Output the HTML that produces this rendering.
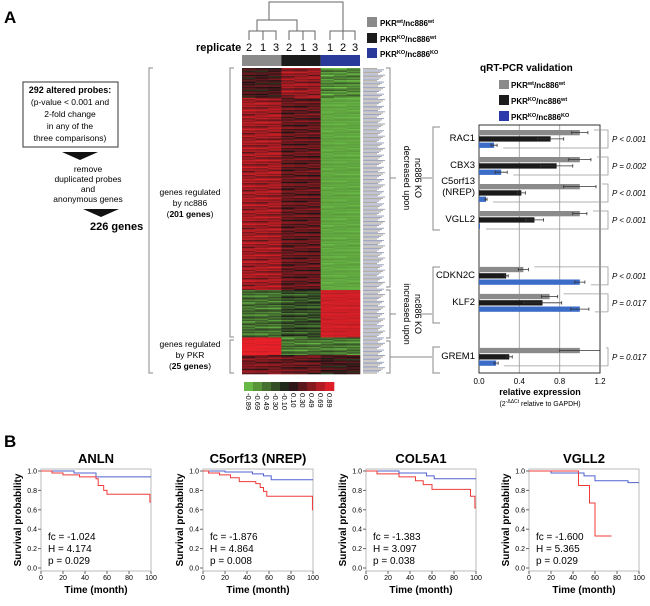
<!DOCTYPE html>
<html><head><meta charset="utf-8"><style>
body{margin:0;background:#fff;}
svg{display:block;font-family:"Liberation Sans",Arial,sans-serif;}
</style></head><body>
<svg id="fig" width="650" height="606" viewBox="0 0 650 606">
<g id="static" fill="#000">
<text x="4" y="23" font-size="17" font-weight="bold">A</text>
<text x="4" y="447" font-size="17" font-weight="bold">B</text>
<rect x="23" y="82" width="95" height="65" fill="#fff" stroke="#555" stroke-width="1.2"/>
<g font-size="8.5" text-anchor="middle">
<text x="70" y="93" font-weight="bold" font-size="9">292 altered probes:</text>
<text x="70" y="105">(p-value &lt; 0.001 and</text>
<text x="70" y="117">2-fold change</text>
<text x="70" y="129">in any of the</text>
<text x="70" y="141">three comparisons)</text>
</g>
<polygon points="62,152 98,152 80,160" fill="#111"/>
<g font-size="8.5" text-anchor="middle">
<text x="88" y="172">remove</text><text x="88" y="182">duplicated probes</text><text x="88" y="192">and</text><text x="88" y="202">anonymous genes</text>
</g>
<polygon points="83,209 119,209 101,217" fill="#111"/>
<text x="90" y="230" font-size="11" font-weight="bold">226 genes</text>
<path d="M153,68 H149 V373 H153" fill="none" stroke="#888" stroke-width="1"/>
<path d="M234,68 H230 V337 H234 M234,340 H230 V373 H234" fill="none" stroke="#888" stroke-width="1"/>
<g font-size="8.5" text-anchor="middle">
<text x="190" y="195">genes regulated</text><text x="190" y="206">by nc886</text><text x="190" y="217">(<tspan font-weight="bold">201 genes</tspan>)</text>
</g>
<g font-size="8.5" text-anchor="middle">
<text x="190" y="347">genes regulated</text><text x="190" y="358">by PKR</text><text x="190" y="369">(<tspan font-weight="bold">25 genes</tspan>)</text>
</g>
<g fill="none" stroke="#666" stroke-width="1">
<path d="M269,20 V2 H343 V31"/>
<path d="M257,31 V20 H297 V31"/>
<path d="M249,40 V31 H276 V40 M263,31 V40"/>
<path d="M289,40 V31 H315 V40 M303,31 V40"/>
<path d="M330,40 V31 H355 V40 M343,31 V40"/>
</g>
<text x="196" y="51" font-size="11" font-weight="bold">replicate</text>
<g font-size="11" text-anchor="middle">
<text x="249" y="51">2</text><text x="263" y="51">1</text><text x="276" y="51">3</text>
<text x="289" y="51">2</text><text x="303" y="51">1</text><text x="315" y="51">3</text>
<text x="330" y="51">1</text><text x="343" y="51">2</text><text x="355" y="51">3</text>
</g>
<rect x="242" y="55" width="39.3" height="11" fill="#8a8a8a"/>
<rect x="281.3" y="55" width="39.3" height="11" fill="#1c1c1c"/>
<rect x="320.6" y="55" width="39.4" height="11" fill="#2a3a9a"/>
<g font-size="8" font-weight="bold">
<rect x="367" y="17" width="10" height="10" fill="#8a8a8a"/><text x="380" y="26">PKR<tspan font-size="5.5" dy="-3">wt</tspan><tspan dy="3">/nc886</tspan><tspan font-size="5.5" dy="-3">wt</tspan></text>
<rect x="367" y="33" width="10" height="10" fill="#1c1c1c"/><text x="380" y="42">PKR<tspan font-size="5.5" dy="-3">KO</tspan><tspan dy="3">/nc886</tspan><tspan font-size="5.5" dy="-3">wt</tspan></text>
<rect x="367" y="48" width="10" height="10" fill="#2a3a9a"/><text x="380" y="57">PKR<tspan font-size="5.5" dy="-3">KO</tspan><tspan dy="3">/nc886</tspan><tspan font-size="5.5" dy="-3">KO</tspan></text>
</g>
<path d="M386,68 H390 V287 H386 M386,290 H390 V338 H386 M386,341 H390 V373 H386" fill="none" stroke="#888"/>
<g font-size="9" text-anchor="middle">
<text transform="translate(404,178) rotate(90)">decreased upon</text><text transform="translate(415,178) rotate(90)">nc886 KO</text></g>
<g font-size="9" text-anchor="middle">
<text transform="translate(404,314) rotate(90)">increased upon</text><text transform="translate(415,314) rotate(90)">nc886 KO</text></g>
<path d="M390,178 H396 M420,178 H432 M390,314 H396 M420,314 H432 M390,357 H432" fill="none" stroke="#888"/>
<path d="M440,127 H433 V230 H440 M440,267 H433 V323 H440 M440,347 H433 V373 H440" fill="none" stroke="#888"/>
<text x="480" y="71" font-size="10" font-weight="bold">qRT-PCR validation</text>
<g font-size="8" font-weight="bold">
<rect x="499" y="80" width="10" height="9" fill="#8a8a8a"/><text x="511" y="88">PKR<tspan font-size="5.5" dy="-3">wt</tspan><tspan dy="3">/nc886</tspan><tspan font-size="5.5" dy="-3">wt</tspan></text>
<rect x="499" y="95" width="10" height="10" fill="#1c1c1c"/><text x="511" y="104">PKR<tspan font-size="5.5" dy="-3">KO</tspan><tspan dy="3">/nc886</tspan><tspan font-size="5.5" dy="-3">wt</tspan></text>
<rect x="499" y="111" width="10" height="10" fill="#2a3aaa"/><text x="511" y="120">PKR<tspan font-size="5.5" dy="-3">KO</tspan><tspan dy="3">/nc886</tspan><tspan font-size="5.5" dy="-3">KO</tspan></text>
</g>
<text x="540" y="395" font-size="9" font-weight="bold" text-anchor="middle">relative expression</text>
<text x="540" y="406" font-size="7" text-anchor="middle">(2<tspan font-size="5" dy="-3">-ΔΔCt</tspan><tspan dy="3"> relative to GAPDH)</tspan></text>
</g>
<g id="heat"></g>
<g id="bars"></g>
<g id="km"></g>
</svg>
<script>
// ---------- heatmap data ----------
const heatBlocks = [ // [rowCount, col1, col2, col3]
  [22, 0.15, 0.55, -0.7],
  [142, 0.6, 0.3, -0.85],
  [35, -0.55, -0.35, 0.85],
  [13, 0.95, -0.6, -0.6],
  [14, 0.4, 0.3, 0.1]
];
const heatMod = [0.0, 0.2, -0.25, 0.1, 0.3, -0.1, 0.15, -0.3, 0.05, 0.25, -0.15, 0.1, -0.05, 0.2];
const colorLabels = ["-0.89","-0.69","-0.49","-0.30","-0.10","0.10","0.30","0.49","0.69","0.89"];
// ---------- bar data ----------
const genes = ["RAC1","CBX3","C5orf13","VGLL2","CDKN2C","KLF2","GREM1"];
const wtVals = [1.0,1.0,1.0,1.0,0.44,0.70,1.0];
const pkrVals = [0.71,0.77,0.42,0.55,0.27,0.63,0.30];
const dkoVals = [0.15,0.22,0.07,0.01,1.0,1.0,0.17];
const wtErr = [0.08,0.11,0.16,0.07,0.05,0.08,0.20];
const pkrErr = [0.13,0.16,0.04,0.09,0.02,0.19,0.03];
const dkoErr = [0.03,0.06,0.01,0.0,0.05,0.09,0.02];
const pvals = ["P < 0.001","P = 0.002","P < 0.001","P < 0.001","P < 0.001","P = 0.017","P = 0.017"];
const xTicks = [0.0,0.4,0.8,1.2];
// ---------- survival data ----------
const kmTitles = ["ANLN","C5orf13 (NREP)","COL5A1","VGLL2"];
const kmStats = [["-1.024","4.174","0.029"],["-1.876","4.864","0.008"],["-1.383","3.097","0.038"],["-1.600","5.365","0.029"]];
const kmBlue = [
  [[0,1],[30,0.98],[50,0.94],[100,0.94]],
  [[0,1],[20,0.99],[45,0.97],[55,0.95],[62,0.91],[100,0.91]],
  [[0,1],[30,0.98],[55,0.95],[62,0.92],[100,0.92]],
  [[0,1],[20,0.98],[50,0.95],[60,0.9],[90,0.88],[100,0.88]]
];
const kmRed = [
  [[0,1],[10,0.98],[20,0.96],[35,0.94],[50,0.92],[52,0.85],[57,0.8],[60,0.76],[98,0.76],[99,0.68],[100,0.68]],
  [[0,1],[5,0.98],[15,0.96],[25,0.93],[33,0.89],[48,0.87],[52,0.83],[55,0.79],[58,0.74],[99,0.74],[99.5,0.6],[100,0.6]],
  [[0,1],[10,0.97],[30,0.94],[45,0.9],[52,0.86],[60,0.81],[95,0.74],[99,0.62],[100,0.62]],
  [[0,1],[40,1],[45,0.85],[55,0.67],[60,0.33],[75,0.33]]
];
const kmXTicks = [0,20,40,60,80,100];
const kmYTicks = [0,0.2,0.4,0.6,0.8,1.0];

const NS="http://www.w3.org/2000/svg";
function mk(tag, attrs, parent){const e=document.createElementNS(NS,tag);for(const k in attrs)e.setAttribute(k,attrs[k]);parent.appendChild(e);return e;}
function heatColor(v){
  v=Math.max(-1,Math.min(1,v));
  if(v>=0){return `rgb(${Math.round(25+210*v)},${Math.round(20+12*v)},${Math.round(22+18*v)})`;}
  const a=-v;return `rgb(${Math.round(25+85*a)},${Math.round(25+170*a)},${Math.round(22+50*a)})`;
}
const heatG=document.getElementById('heat');
const hx0=242,hx1=360,hy0=68,hy1=374;
const totalRows=heatBlocks.reduce((s,b)=>s+b[0],0);
const rowH=(hy1-hy0)/totalRows, colW=(hx1-hx0)/9;
let rowIdx=0;
heatBlocks.forEach((b,bi)=>{
  for(let i=0;i<b[0];i++){
    for(let c=0;c<9;c++){
      const grp=Math.floor(c/3);
      const v=b[1+grp]+heatMod[(rowIdx+c*5+bi)%heatMod.length]*(Math.abs(b[1+grp])>0.8?0.3:1);
      const el=mk('rect',{x:hx0+c*colW,y:hy0+rowIdx*rowH,width:colW+0.3,height:rowH+0.3,fill:heatColor(v)},heatG);
      
      
    }
    const lb=mk('rect',{x:363,y:hy0+rowIdx*rowH,width:14+((rowIdx*7)%9),height:rowH*0.7,fill:(rowIdx%3?'#9aa0b8':'#b0a89a')},heatG);
    
    
    rowIdx++;
  }
});
const cbVals=colorLabels.map(Number);
cbVals.forEach((v,i)=>{
  const w=(334-244)/cbVals.length;
  const sw=mk('rect',{x:244+i*w,y:382,width:w+0.3,height:9,fill:heatColor(v*1.05)},heatG);
  
  
  const t=mk('text',{transform:`translate(${244+i*w+w/2-2.5},393) rotate(90)`,'font-size':'7.5'},heatG);
  t.textContent=colorLabels[i];
  
  
});
const barsG=document.getElementById('bars');
const bx0=479,bx1=600,by0=125,by1=373;
const xs=v=>bx0+(v/1.2)*(bx1-bx0);
const slots=[0,1,2,3,5.07,6.07,8.07];
const groupY=i=>130+slots[i]*27;
xTicks.forEach(t=>{
  if(t>0&&t<1.2){const g=mk('line',{x1:xs(t),x2:xs(t),y1:by0,y2:by1,stroke:'#aaa','stroke-width':1},barsG);}
  const tl=mk('text',{x:xs(t),y:384,'font-size':'8','text-anchor':'middle'},barsG);tl.textContent=t.toFixed(1);
  
  
});
const plotFrame=mk('rect',{x:bx0,y:by0,width:bx1-bx0,height:by1-by0,fill:'none',stroke:'#333','stroke-width':1},barsG);


const seriesList=[[wtVals,wtErr,'#8a8a8a'],[pkrVals,pkrErr,'#1a1a1a'],[dkoVals,dkoErr,'#3a6cc8']];
genes.forEach((g,i)=>{
  const gy=groupY(i);
  seriesList.forEach((s,k)=>{
    const y=gy+k*6.3, v=s[0][i], e=s[1][i];
    const b=mk('rect',{x:bx0,y:y,width:Math.max(0.8,xs(v)-bx0),height:5.3,fill:s[2]},barsG);
    
    
    if(e>0){
      const eb=mk('path',{d:`M${xs(v-e)},${y+2.6}H${xs(v+e)}M${xs(v-e)},${y+1}V${y+4.3}M${xs(v+e)},${y+1}V${y+4.3}`,stroke:'#333','stroke-width':0.8,fill:'none'},barsG);
      
      
    }
  });
  const lab = g==="C5orf13" ? ["C5orf13","(NREP)"] : [g];
  lab.forEach((l,j)=>{
    const t=mk('text',{x:475,y:gy+(lab.length>1?j*11:11),'font-size':'9.5','text-anchor':'end'},barsG);
    t.textContent=l;
    
    
  });
  const br=mk('path',{d:`M${xs(wtVals[i]+wtErr[i])+6},${gy}H608V${gy+18}H${xs(dkoVals[i]+dkoErr[i])+6}`,fill:'none',stroke:'#999','stroke-width':0.8},barsG);
  
  
  const pt=mk('text',{x:612,y:gy+12,'font-size':'8','font-style':'italic'},barsG);
  pt.textContent=pvals[i];
  
  
});
const kmG=document.getElementById('km');
const px0=[41,203,366,529];
kmTitles.forEach((title,p)=>{
  const fx0=px0[p], fx1=fx0+110, fy0=469, fy1=571;
  const X=t=>fx0+t*1.1, Y=s=>568-s*97;
  const g=mk('g',{},kmG);
  
  
  mk('rect',{x:fx0,y:fy0,width:fx1-fx0,height:fy1-fy0,fill:'none',stroke:'#bbb','stroke-width':1},g);
  const tt=mk('text',{x:(fx0+fx1)/2,y:463,'font-size':'13','font-weight':'bold','text-anchor':'middle'},g);tt.textContent=title;
  
  
  kmYTicks.forEach(v=>{
    mk('line',{x1:fx0-3,x2:fx0,y1:Y(v),y2:Y(v),stroke:'#666'},g);
    const t=mk('text',{x:fx0-4,y:Y(v)+2.5,'font-size':'7','text-anchor':'end'},g);t.textContent=v.toFixed(1);
    
    
  });
  kmXTicks.forEach(v=>{
    mk('line',{x1:X(v),x2:X(v),y1:fy1,y2:fy1+3,stroke:'#666'},g);
    const t=mk('text',{x:X(v),y:580,'font-size':'7','text-anchor':'middle'},g);t.textContent=v;
    
    
  });
  const xt=mk('text',{x:(fx0+fx1)/2,y:593,'font-size':'10','font-weight':'bold','text-anchor':'middle'},g);xt.textContent='Time (month)';
  
  
  const yt=mk('text',{transform:`translate(${fx0-20},${(fy0+fy1)/2}) rotate(-90)`,'font-size':'10','font-weight':'bold','text-anchor':'middle'},g);yt.textContent='Survival probability';
  
  
  [[kmBlue[p],'#5060d0'],[kmRed[p],'#f03a3a']].forEach(([pts,col])=>{
    let d=`M${X(pts[0][0])},${Y(pts[0][1])}`;
    for(let i=1;i<pts.length;i++){d+=`H${X(pts[i][0])}V${Y(pts[i][1])}`;}
    const pl=mk('path',{d:d,fill:'none',stroke:col,'stroke-width':1},g);
    
    
  });
  const labs=['fc = '+kmStats[p][0],'H = '+kmStats[p][1],'p = '+kmStats[p][2]];
  labs.forEach((l,j)=>{
    const t=mk('text',{x:fx0+7,y:540+j*12,'font-size':'10'},g);t.textContent=l;
    
    
  });
});
</script>
</body></html>
